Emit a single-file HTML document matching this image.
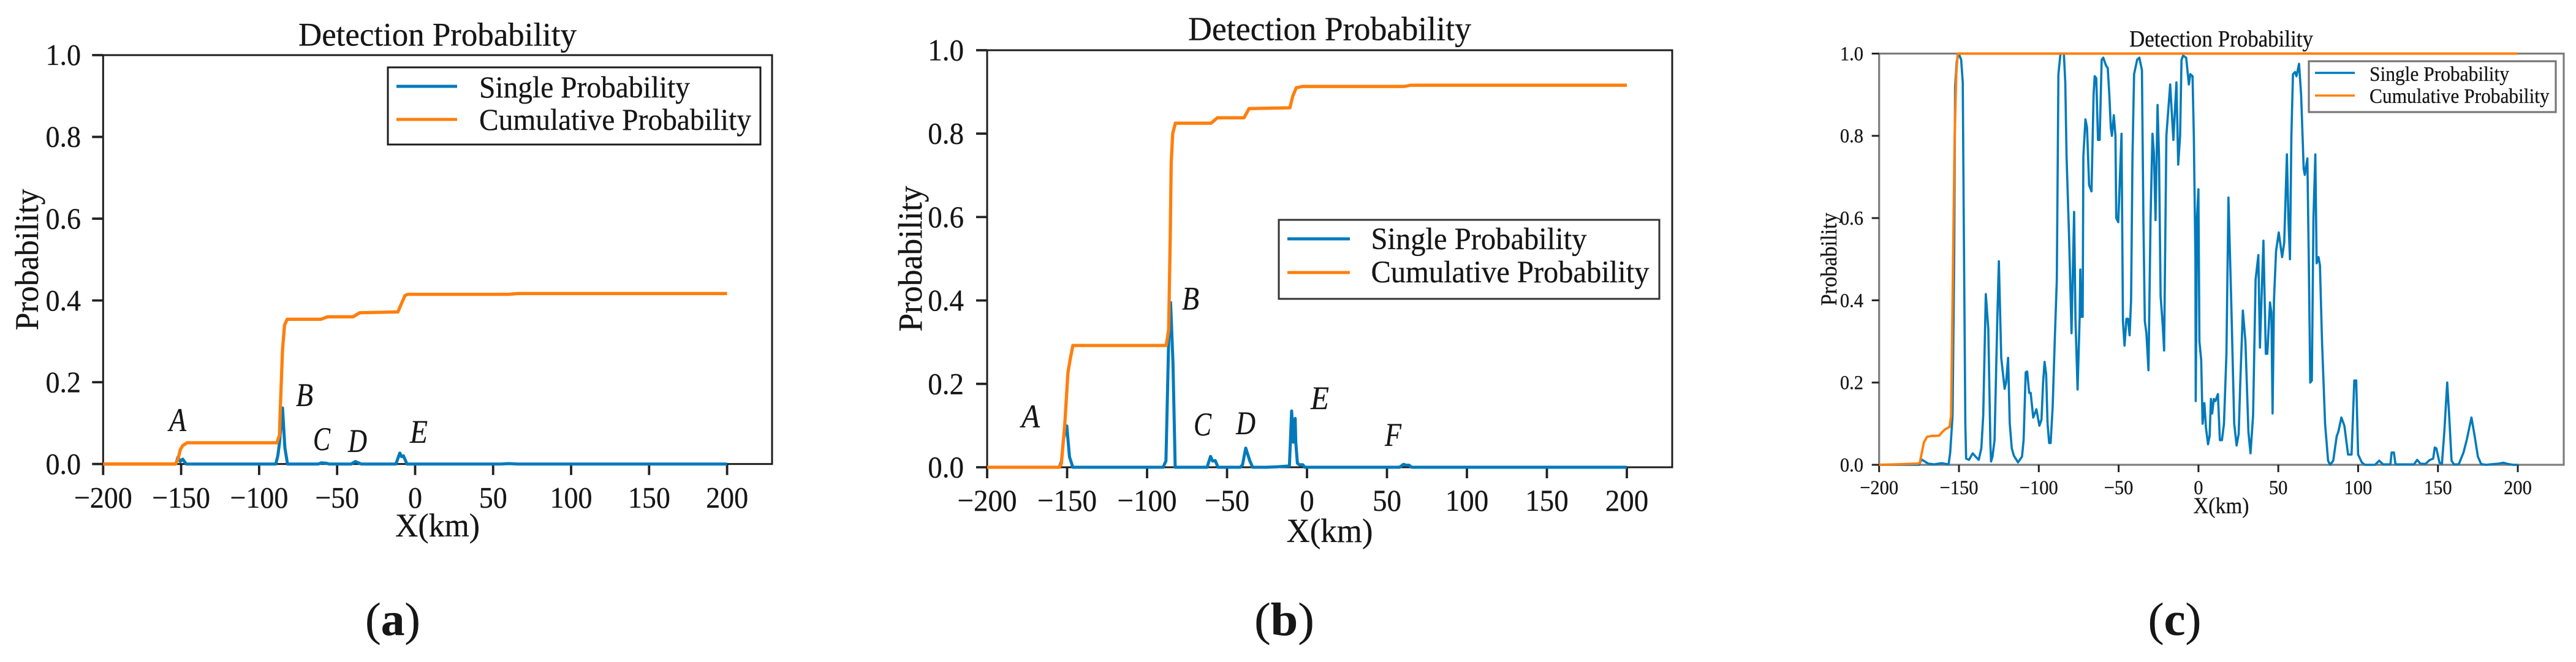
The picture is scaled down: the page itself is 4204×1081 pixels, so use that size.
<!DOCTYPE html>
<html lang="en">
<head>
<meta charset="utf-8">
<title>Detection Probability Charts</title>
<style>
html,body{margin:0;padding:0;background:#fff;}
body{width:4204px;height:1081px;overflow:hidden;}
svg{display:block;}
text{font-family:"Liberation Serif","DejaVu Serif",serif;fill:#161616;stroke:#161616;stroke-width:0.3px;}
</style>
</head>
<body>
<svg id="figure" xmlns="http://www.w3.org/2000/svg" width="4204" height="1081" viewBox="0 0 4204 1081"></svg>
<script>
const xTickValues = [-200,-150,-100,-50,0,50,100,150,200];
const yTickValues = [0,0.2,0.4,0.6,0.8,1.0];
const legendLabels = ["Single Probability","Cumulative Probability"];

const aSingleX = [-200,-154,-153.3,-152,-150.5,-149,-146.7,-90,-89.3,-88,-87,-85,-83.5,-81.8,-62,-60,-57,-55,-41,-38.3,-34.5,-12.3,-9.8,-8.6,-7.5,-5.2,55,60,66,200];
const aSingleP = [0,0,0.001,0.017,0.006,0.012,0,0,0,0.02,0.05,0.137,0.04,0,0,0.003,0.002,0,0,0.006,0,0,0.027,0.018,0.02,0,0,0.001,0,0];
const aCumX = [-200,-153.7,-152,-150.5,-149,-146.2,-88.6,-87,-86.3,-85,-83.7,-82,-60.3,-56,-39.8,-35.5,-11,-9,-6.5,-4.6,59.6,66,200];
const aCumP = [0,0,0.012,0.035,0.045,0.052,0.052,0.07,0.15,0.28,0.34,0.354,0.354,0.36,0.36,0.37,0.372,0.39,0.412,0.415,0.415,0.417,0.417];

const bSingleX = [-200,-154.9,-153.5,-152.3,-150.2,-148.5,-146.4,-90,-88.2,-86.5,-85.3,-83.8,-82.4,-62.5,-60.3,-59,-57.4,-55.6,-41.7,-40.3,-38.3,-35.7,-34,-25.4,-18.5,-11.7,-11,-9.6,-8.6,-7.4,-7,-6,-4.8,-2.6,-1.4,57.8,60.4,62,63.8,65.5,200];
const bSingleP = [0,0,0.015,0.067,0.099,0.025,0,0,0.015,0.3,0.395,0.25,0,0,0.026,0.015,0.016,0,0,0.006,0.046,0.015,0,0,0.001,0.003,0.003,0.135,0.06,0.117,0.06,0.01,0.006,0.006,0,0,0.007,0.005,0.005,0,0];
const bCumX = [-200,-155,-153.6,-151.5,-149.5,-148,-146.4,-88,-86.5,-85.5,-84.9,-84,-82.3,-60,-56,-39.4,-36.2,-10.7,-8.9,-6.7,-2.9,60.7,64.9,200];
const bCumP = [0,0,0.008,0.1,0.226,0.26,0.292,0.292,0.33,0.55,0.73,0.8,0.825,0.825,0.838,0.838,0.86,0.862,0.89,0.91,0.913,0.913,0.916,0.916];

const cSingleX = [-200,-175,-173.4,-169.3,-165.5,-161,-156.5,-155.5,-154,-153,-152.4,-151.4,-150.1,-148.6,-147.6,-147,-146,-145.5,-143.7,-141.4,-139.6,-137.6,-136,-134.8,-133.2,-131.6,-130.3,-129.9,-129,-127.7,-126,-125,-123.5,-121.4,-120.5,-119.2,-118.2,-116.9,-115.6,-113,-110.5,-109.5,-108.2,-107.3,-106,-105.1,-103.5,-101.5,-99.6,-98.3,-97.3,-96.4,-95.4,-94.5,-93.5,-92.6,-91.3,-90,-88.7,-87.7,-86.4,-84.3,-83.4,-82.6,-81,-79.5,-77.9,-77,-75.7,-74.4,-74,-73.4,-72.5,-72.1,-70.8,-69.8,-68.5,-67,-65.7,-65,-64,-62.9,-61.9,-60.6,-59.6,-57.8,-56.8,-55.8,-54.9,-54.2,-53,-52,-51.5,-50.2,-48.2,-47.3,-46.3,-45.1,-44.1,-43.1,-42.2,-41.3,-40.3,-38.4,-37,-35.4,-34.5,-33.6,-32.6,-31.3,-30,-28.8,-27.9,-26.9,-25.6,-24.7,-23.7,-22.4,-21.5,-20.1,-17.7,-15.7,-13.8,-12.7,-11.5,-10.6,-9.6,-7.7,-6,-5.1,-3.7,-2.9,-1.9,-1.7,-0.9,0,0.6,1.7,2.6,3.7,4.7,6,7,7.8,8.6,9.6,10.6,12.2,13.4,14.7,16,17.5,18.8,20.5,22.4,23.9,25.2,26.2,27.8,29.4,31.3,32.6,34.2,35.8,37.5,38.5,40.7,42.2,43.1,44.8,45.7,46.4,47.3,48.6,50.3,52.4,53.7,55.4,56.3,57.3,58.2,59.2,60.5,61.4,63,64.3,65.9,66.6,68.2,69.1,70,71,72,73.2,74,75.2,76.1,77.4,79.3,81.2,82.5,84.4,86.6,87.6,89.5,91.4,93.7,95.9,97.6,98.8,100,102.3,104.2,110.6,113.2,115.7,120.2,121,122.4,123.4,135,137,139,142,145,147,148,149,151,152.5,154,155.8,157,158.5,160,163,166,168,171,173,175,177,180,188,191,194,197,200];
const cSingleP = [0,0,0.013,0.003,0.001,0.004,0.001,0.03,0.12,0.5,0.92,0.98,1,0.985,0.93,0.6,0.1,0.015,0.012,0.028,0.02,0.012,0.04,0.12,0.415,0.33,0.05,0.008,0.02,0.06,0.35,0.495,0.26,0.185,0.2,0.26,0.1,0.04,0.022,0.006,0.02,0.06,0.225,0.227,0.175,0.175,0.115,0.135,0.095,0.11,0.2,0.25,0.22,0.1,0.053,0.053,0.14,0.3,0.45,0.95,1,1,0.93,0.75,0.55,0.32,0.615,0.35,0.183,0.36,0.475,0.36,0.36,0.75,0.84,0.82,0.68,0.665,0.9,0.945,0.94,0.79,0.79,0.985,0.99,0.97,0.965,0.9,0.82,0.8,0.85,0.8,0.6,0.59,0.805,0.35,0.29,0.355,0.355,0.315,0.4,0.75,0.95,0.985,0.99,0.96,0.6,0.35,0.32,0.23,0.6,0.805,0.76,0.595,0.875,0.75,0.41,0.34,0.278,0.8,0.925,0.79,0.93,0.73,0.8,0.985,0.995,0.99,0.925,0.95,0.945,0.8,0.5,0.155,0.6,0.67,0.3,0.255,0.1,0.15,0.09,0.05,0.07,0.16,0.125,0.16,0.155,0.172,0.06,0.06,0.1,0.27,0.65,0.4,0.1,0.047,0.075,0.2,0.375,0.3,0.08,0.028,0.12,0.45,0.51,0.285,0.545,0.27,0.27,0.395,0.37,0.125,0.4,0.52,0.565,0.505,0.54,0.755,0.6,0.5,0.8,0.95,0.955,0.945,0.975,0.9,0.72,0.705,0.745,0.5,0.2,0.205,0.6,0.755,0.49,0.505,0.485,0.3,0.1,0.01,0,0.01,0.07,0.08,0.115,0.095,0.025,0.025,0.205,0.205,0.025,0.006,0,0,0.01,0.001,0.001,0.03,0.03,0.001,0.001,0.012,0.003,0.002,0.012,0.015,0.042,0.04,0.005,0.002,0.08,0.2,0.12,0.01,0.001,0.001,0.03,0.06,0.115,0.07,0.02,0.002,0,0.003,0.005,0.002,0,0];
const cCumX = [-200,-190,-175.5,-174.5,-173,-171.9,-170,-167.4,-162.3,-160.4,-158.4,-155.9,-154.9,-154,-152.7,-151.7,-150.8,200];
const cCumP = [0,0.001,0.003,0.005,0.035,0.055,0.068,0.07,0.071,0.08,0.087,0.092,0.12,0.4,0.8,0.95,1,1];

const NS = "http://www.w3.org/2000/svg";
const svg = document.getElementById("figure");
const BLUE = "#007abb", ORANGE = "#ff7f0e";

function make(tag, attrs, parent){
  const n = document.createElementNS(NS, tag);
  for (const k in attrs) n.setAttribute(k, attrs[k]);
  parent.appendChild(n);
  return n;
}
function label(parent, str, x, y, size, anchor, len, extra){
  const attrs = {x:x, y:y, "font-size":size, "text-anchor":anchor||"start"};
  if (len){ attrs.textLength = len; attrs.lengthAdjust = "spacingAndGlyphs"; }
  if (extra) for (const k in extra) attrs[k] = extra[k];
  const t = make("text", attrs, parent);
  t.textContent = str;
  return t;
}
function fmtX(v){ return v < 0 ? "\u2212" + Math.abs(v) : String(v); }
function emWidth(s){
  let w = 0;
  for (const ch of s) w += ch === "." ? 0.25 : (ch === "\u2212" ? 0.564 : 0.5);
  return w;
}

function drawChart(id, cfg, singleX, singleP, cumX, cumP){
  const g = make("g", {}, svg);
  
  

  const sx = v => cfg.x200n + (v + 200) * (cfg.x200p - cfg.x200n) / 400;
  const sy = v => cfg.bottom - v * (cfg.bottom - cfg.top);
  const toPath = (xs, ys) => xs.map((x, i) => (i ? "L" : "M") + sx(x).toFixed(1) + " " + sy(ys[i]).toFixed(1)).join("");

  const frame = make("rect", {x:cfg.left, y:cfg.top, width:cfg.right-cfg.left, height:cfg.bottom-cfg.top, fill:"none", stroke:cfg.spine, "stroke-width":cfg.spineW}, g);
  
  

  xTickValues.forEach(v => {
    const tick = make("line", {x1:sx(v), x2:sx(v), y1:cfg.bottom, y2:cfg.bottom+cfg.tickLen, stroke:"#222", "stroke-width":cfg.tickW}, g);
    
    
    const s = fmtX(v);
    const tl = label(g, s, sx(v), cfg.xTickY, cfg.tickFont, "middle", emWidth(s)*cfg.tickWidthEm);
    
    
  });
  yTickValues.forEach(v => {
    const tick = make("line", {x1:cfg.left-cfg.tickLen, x2:cfg.left, y1:sy(v), y2:sy(v), stroke:"#222", "stroke-width":cfg.tickW}, g);
    
    
    const s = v.toFixed(1);
    const tl = label(g, s, cfg.yTickX, sy(v)+cfg.tickFont*0.33, cfg.tickFont, "end", emWidth(s)*cfg.tickWidthEm);
    
    
  });

  const single = make("path", {d:toPath(singleX, singleP), fill:"none", stroke:BLUE, "stroke-width":cfg.lineW, "stroke-linejoin":"round"}, g);
  
  
  const cum = make("path", {d:toPath(cumX, cumP), fill:"none", stroke:ORANGE, "stroke-width":cfg.lineW+0.3, "stroke-linejoin":"round"}, g);
  
  

  const title = label(g, "Detection Probability", cfg.cx, cfg.titleY, cfg.titleFont, "middle", cfg.titleLen);
  
  
  const xl = label(g, "X(km)", cfg.cx, cfg.xLabelY, cfg.labelFont, "middle", cfg.xLabelLen);
  
  
  const yl = label(g, "Probability", 0, 0, cfg.labelFont, "middle", cfg.yLabelLen, {transform:"translate(" + cfg.yLabelX + " " + (cfg.top+cfg.bottom)/2 + ") rotate(-90)"});
  
  

  const lg = cfg.legend;
  const legend = make("g", {}, g);
  
  
  const box = make("rect", {x:lg.x, y:lg.y, width:lg.w, height:lg.h, fill:"#fff", stroke:cfg.legendStroke, "stroke-width":cfg.spineW}, legend);
  
  
  const colors = [BLUE, ORANGE];
  legendLabels.forEach((s, i) => {
    const sw = make("line", {x1:lg.lineX1, x2:lg.lineX2, y1:lg.lineY[i], y2:lg.lineY[i], stroke:colors[i], "stroke-width":cfg.lineW}, legend);
    
    
    const t = label(legend, s, lg.textX, lg.textY[i], lg.font, "start", lg.textLen[i]);
    
    
  });

  cfg.notes.forEach(n => {
    const t = label(g, n[0], n[1], n[2], 54, "start", n[3], {"font-style":"italic"});
    
    
  });

  const cap = make("text", {x:cfg.capX, y:1037, "font-size":76, "text-anchor":"middle", textLength:cfg.capLen, lengthAdjust:"spacingAndGlyphs"}, svg);
  
  
  const open = make("tspan", {}, cap); open.textContent = "(";
  const letter = make("tspan", {"font-weight":"bold"}, cap); letter.textContent = id;
  const close = make("tspan", {}, cap); close.textContent = ")";
}

drawChart("a", {
  left:168.3, right:1260, top:90, bottom:757.7, x200n:168.3, x200p:1186.6, cx:714,
  spine:"#1c1c1c", spineW:3, legendStroke:"#1c1c1c", tickLen:18, tickW:3.8, tickFont:49, tickWidthEm:46, xTickY:829, yTickX:132, lineW:5,
  titleY:74.5, titleFont:54, titleLen:454, xLabelY:876, labelFont:54, xLabelLen:138, yLabelX:62, yLabelLen:231,
  legend:{x:633,y:110,w:608,h:126,lineX1:647,lineX2:746,lineY:[141,195],textX:782,textY:[159,212],font:50,textLen:[344,444]},
  notes:[["A",276,704,28],["B",483,663,28],["C",511,735,28],["D",568,738,31],["E",669,723,29]],
  capX:641, capLen:90
}, aSingleX, aSingleP, aCumX, aCumP);

drawChart("b", {
  left:1611, right:2729, top:82, bottom:763, x200n:1611, x200p:2655, cx:2170,
  spine:"#1c1c1c", spineW:3, legendStroke:"#333", tickLen:18, tickW:3.8, tickFont:50, tickWidthEm:47, xTickY:834, yTickX:1573, lineW:5,
  titleY:65.5, titleFont:55, titleLen:462, xLabelY:885, labelFont:55, xLabelLen:141, yLabelX:1504, yLabelLen:238,
  legend:{x:2087,y:359,w:621,h:129,lineX1:2101,lineX2:2203,lineY:[390,445],textX:2237.5,textY:[407,461],font:51,textLen:[352,454]},
  notes:[["A",1667,698,30],["B",1929,505.5,28],["C",1948,711,29],["D",2017,709,32],["E",2139,668,30],["F",2260,728,27]],
  capX:2096, capLen:98
}, bSingleX, bSingleP, bCumX, bCumP);

drawChart("c", {
  left:3066.7, right:4184, top:87.5, bottom:759, x200n:3066.7, x200p:4109, cx:3625,
  spine:"#7d7d7d", spineW:3.2, legendStroke:"#777", tickLen:12, tickW:3, tickFont:33, tickWidthEm:30.5, xTickY:807, yTickX:3041, lineW:3.6,
  titleY:76, titleFont:38, titleLen:300, xLabelY:838, labelFont:37, xLabelLen:91, yLabelX:2997, yLabelLen:152,
  legend:{x:3768,y:100,w:403,h:83,lineX1:3778,lineX2:3843,lineY:[119,156],textX:3867,textY:[132,168],font:34,textLen:[228,293.6]},
  notes:[],
  capX:3549, capLen:87
}, cSingleX, cSingleP, cCumX, cCumP);
</script>
</body>
</html>
